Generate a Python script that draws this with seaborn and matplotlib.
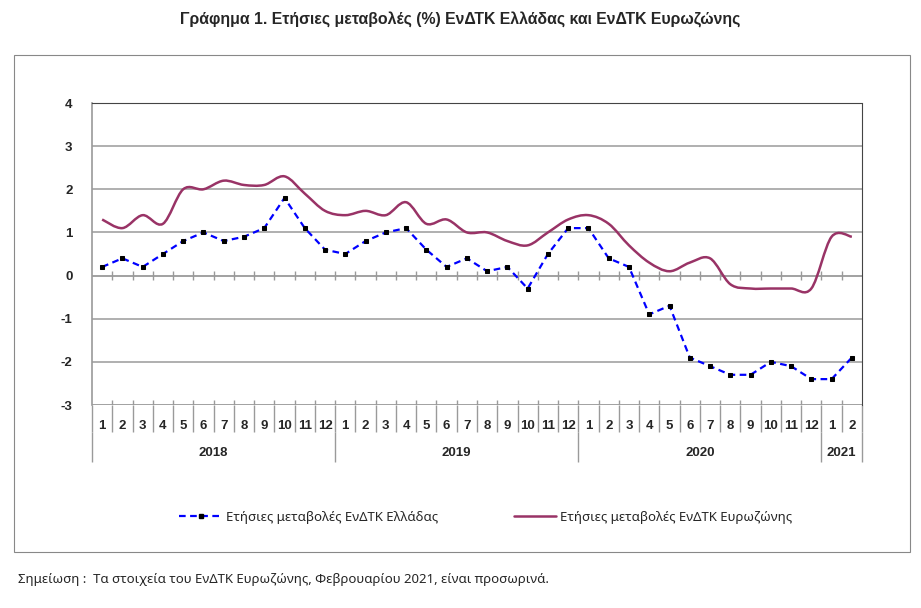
import numpy as np
import matplotlib
matplotlib.use("Agg")
import matplotlib.pyplot as plt
from matplotlib.path import Path
from matplotlib.patches import PathPatch, Rectangle
from matplotlib.lines import Line2D
import seaborn as sns

# δεδομένα
years = ["2018", "2019", "2020", "2021"]
months_per_year = [12, 12, 12, 2]
month_labels = [str(m) for m in range(1, 13)] * 3 + ["1", "2"]

greece = [0.2, 0.4, 0.2, 0.5, 0.8, 1.0, 0.8, 0.9, 1.1, 1.8, 1.1, 0.6,
          0.5, 0.8, 1.0, 1.1, 0.6, 0.2, 0.4, 0.1, 0.2, -0.3, 0.5, 1.1,
          1.1, 0.4, 0.2, -0.9, -0.7, -1.9, -2.1, -2.3, -2.3, -2.0, -2.1, -2.4,
          -2.4, -1.9]
euro = [1.3, 1.1, 1.4, 1.2, 2.0, 2.0, 2.2, 2.1, 2.1, 2.3, 1.9, 1.5,
        1.4, 1.5, 1.4, 1.7, 1.2, 1.3, 1.0, 1.0, 0.8, 0.7, 1.0, 1.3,
        1.4, 1.2, 0.7, 0.3, 0.1, 0.3, 0.4, -0.2, -0.3, -0.3, -0.3, -0.3,
        0.9, 0.9]

label_gr = "Ετήσιες μεταβολές ΕνΔΤΚ Ελλάδας"
label_eu = "Ετήσιες μεταβολές ΕνΔΤΚ Ευρωζώνης"

sns.set_style("white")
plt.rcParams['font.family'] = ['Noto Sans', 'DejaVu Sans']
bold_font = ['Liberation Sans', 'DejaVu Sans']

blue = "#0000FF"
plum = "#993366"
grid_c = "#9A9A9A"

fig = plt.figure(figsize=(9.21, 6.08), dpi=100)
ax = fig.add_axes([92 / 921, 1 - 405 / 608, 770 / 921, 302 / 608])

n = len(greece)
x = np.arange(n)

# πλαίσιο γραφήματος
fig.patches.append(Rectangle((14 / 921, 1 - 552 / 608), 896 / 921, 497 / 608,
                             transform=fig.transFigure, fill=False,
                             edgecolor="#888888", linewidth=0.8))

ax.set_xlim(-0.5, n - 0.5)
ax.set_ylim(-3, 4)
for yv in [-2, -1, 1, 2, 3]:
    ax.axhline(yv, color=grid_c, linewidth=1.1, zorder=0)
ax.axhline(-3, color=grid_c, linewidth=1.3, zorder=1)
ax.axhline(0, color=grid_c, linewidth=1.3, zorder=1)

# διαχωριστικά κατηγοριών
bounds = np.arange(n + 1) - 0.5
ax.vlines(bounds[1:-1], -0.1, 0.1, color=grid_c, linewidth=1.0, zorder=1)
ax.vlines(bounds[1:-1], -3, -2.88, color=grid_c, linewidth=1.0, zorder=1)

for s in ["top", "right"]:
    ax.spines[s].set_linestyle((0, (1, 1)))
    ax.spines[s].set_color("#444444")
    ax.spines[s].set_linewidth(0.8)
ax.spines["left"].set_color(grid_c)
ax.spines["left"].set_linewidth(1.2)
ax.spines["bottom"].set_visible(False)

ax.set_yticks(range(-3, 5))
ax.set_yticklabels([str(v) for v in range(-3, 5)], fontweight="bold",
                   fontsize=9.5, family=bold_font)
ax.tick_params(axis="y", length=0, pad=14)
ax.set_xticks([])

# εξομαλυμένη γραμμή Ευρωζώνης (καμπύλες Bezier ανάμεσα στα σημεία)
pts = np.column_stack([x, euro]).astype(float)
verts = [pts[0]]
codes = [Path.MOVETO]
for i in range(n - 1):
    p0 = pts[max(i - 1, 0)]
    p1 = pts[i]
    p2 = pts[i + 1]
    p3 = pts[min(i + 2, n - 1)]
    verts += [p1 + (p2 - p0) / 6, p2 - (p3 - p1) / 6, p2]
    codes += [Path.CURVE4] * 3
ax.add_patch(PathPatch(Path(verts, codes), fill=False, edgecolor=plum,
                       linewidth=1.8, zorder=3))

sns.lineplot(x=x, y=greece, ax=ax, color=blue, linewidth=1.6,
             linestyle=(0, (3, 2)), marker="s", markersize=3.0,
             markerfacecolor="black", markeredgecolor="black", zorder=4)

# ετικέτες μηνών και ετών κάτω από τον άξονα
trans = ax.get_xaxis_transform()
for i, lab in enumerate(month_labels):
    ax.text(i, -0.068, lab, transform=trans, ha="center", va="center",
            fontsize=9.5, fontweight="bold", family=bold_font)
ax.vlines(bounds, -0.09, 0, transform=trans, color=grid_c, linewidth=1.0,
          clip_on=False)
start = 0
for yr, cnt in zip(years, months_per_year):
    ax.text(start + cnt / 2 - 0.5, -0.16, yr, transform=trans, ha="center",
            va="center", fontsize=9.5, fontweight="bold", family=bold_font)
    start += cnt
year_bounds = np.cumsum([0] + months_per_year) - 0.5
ax.vlines(year_bounds, -0.19, -0.09, transform=trans, color=grid_c,
          linewidth=1.0, clip_on=False)

fig.text(0.5, 1 - 20 / 608,
         "Γράφημα 1. Ετήσιες μεταβολές (%) ΕνΔΤΚ Ελλάδας και ΕνΔΤΚ Ευρωζώνης",
         ha="center", va="center", fontsize=11.4, fontweight="bold",
         family=bold_font)

handles = [Line2D([], [], color=blue, linewidth=1.6, linestyle=(0, (3, 2)),
                  marker="s", markersize=3.0, markerfacecolor="black",
                  markeredgecolor="black", markevery=[1], label=label_gr),
           Line2D([], [], color=plum, linewidth=1.8, label=label_eu)]
fig.legend(handles=handles, loc="center", bbox_to_anchor=(486 / 921, 1 - 517 / 608),
           ncol=2, frameon=False, fontsize=9.5, handlelength=3.2,
           columnspacing=5.8, handletextpad=0.3)

fig.text(18 / 921, 1 - 580 / 608,
         "Σημείωση :  Τα στοιχεία του ΕνΔΤΚ Ευρωζώνης, Φεβρουαρίου 2021, είναι προσωρινά.",
         ha="left", va="center", fontsize=9.5)

fig.savefig("out.png", dpi=100)
